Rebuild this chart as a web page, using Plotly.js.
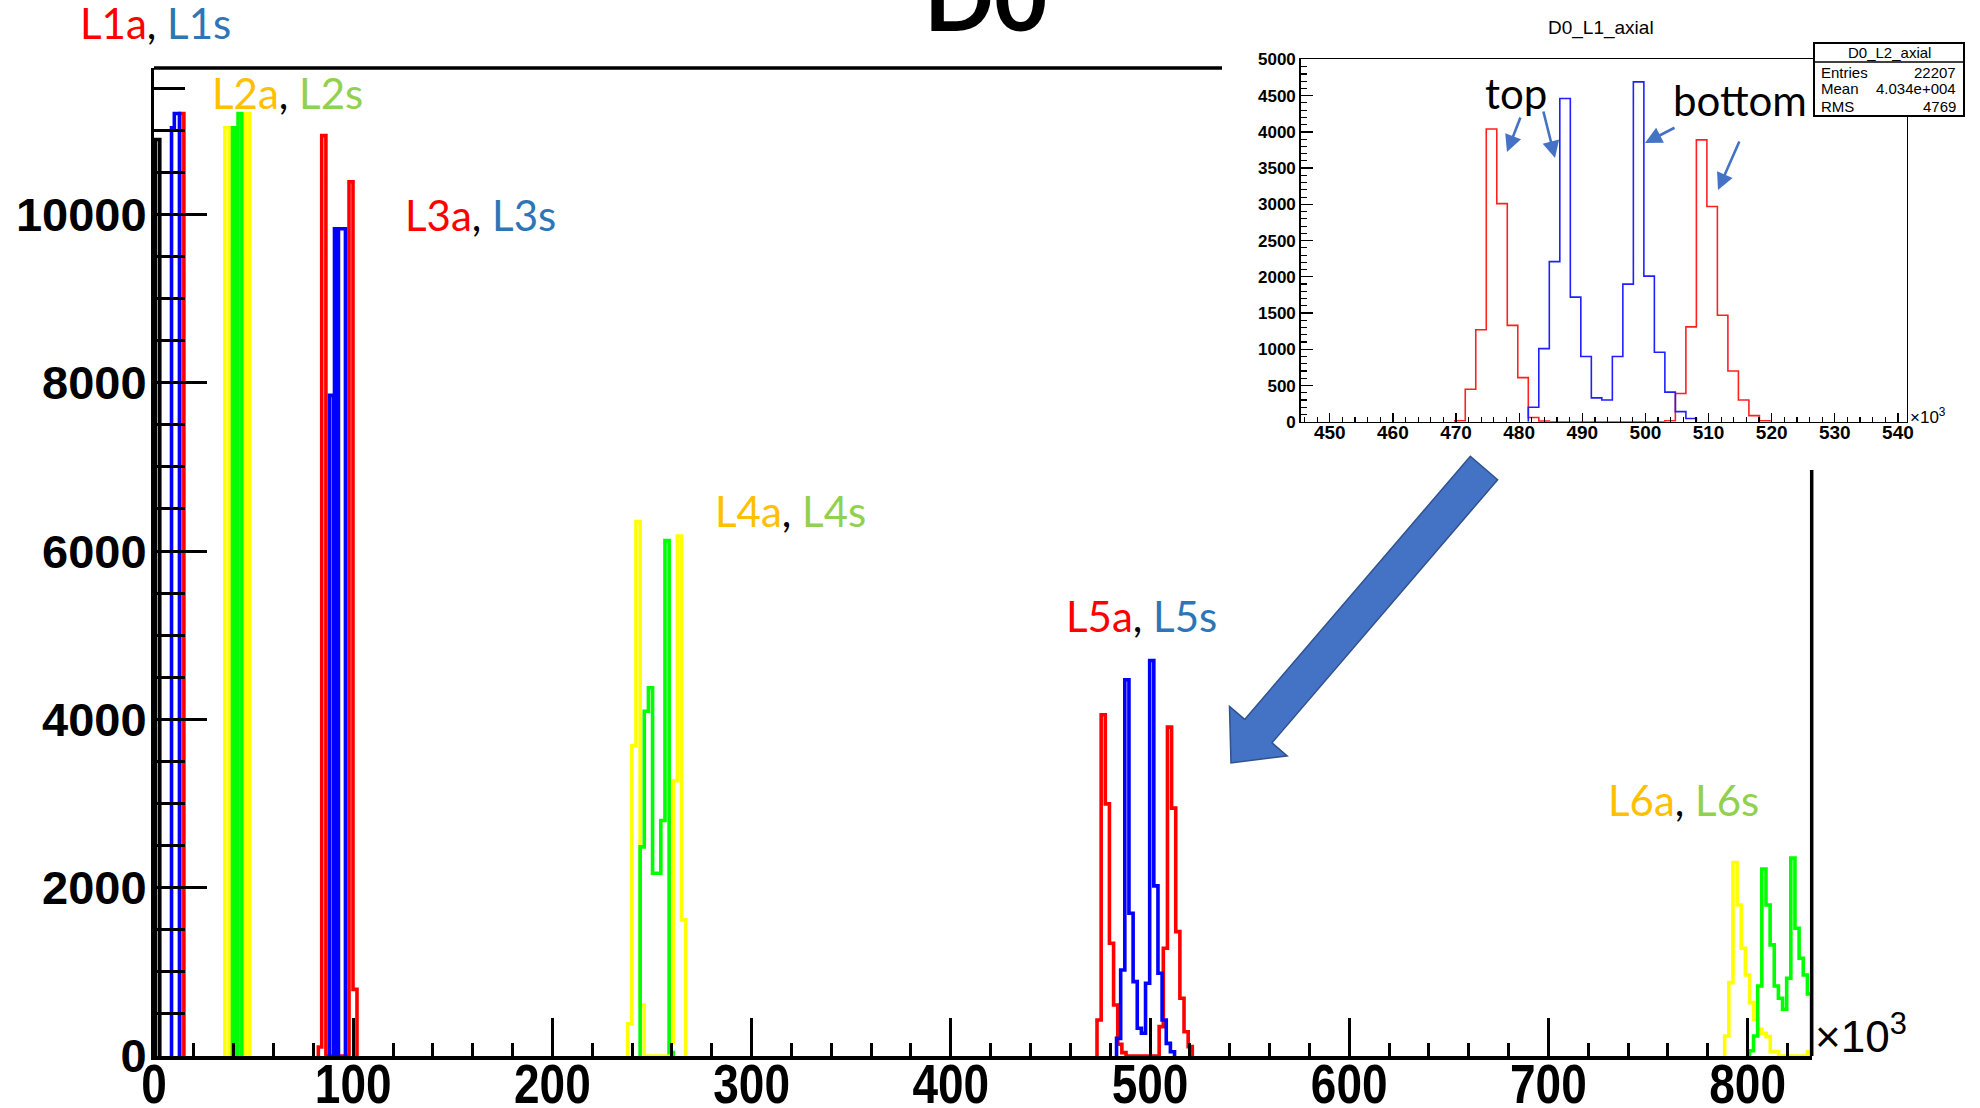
<!DOCTYPE html>
<html>
<head>
<meta charset="utf-8">
<script src="https://cdn.plot.ly/plotly-3.0.1.min.js"></script>
<style>html,body{margin:0;padding:0;background:#fff;}#chart{width:1980px;height:1108px;}</style>
</head>
<body>
<div id="chart"></div>
<script>
// ---------------- DATA (x in units of 10^3, y = entries) ----------------
const binW = 2.08;          // main histogram bin width
const insetBinW = 1.664;    // inset histogram bin width

// L1 / L2 / L3 stripes (explicit bin edges)
const l0Edges  = [0.8, 2.9];                 const l0Counts  = [10890];
const l1aEdges = [12.9, 15.0];               const l1aCounts = [11200];
const l1sEdges = [8.8, 10.2, 12.8];          const l1sCounts = [11030, 11200];
const l2aEdges = [35.6, 37.7, 46.1, 48.1];   const l2aCounts = [11030, 0, 11200];
const l2sEdges = [39.4, 41.1, 42.2, 44.1];   const l2sCounts = [11030, 0, 11200];
const l3aEdges = [82.5, 84.2, 86.3, 97.9, 99.9, 101.9]; const l3aCounts = [107, 10936, 0, 10389, 792];
const l3sEdges = [88.1, 90.1, 90.6, 92.1, 92.6, 96.1];  const l3sCounts = [7850, 0, 9830, 0, 9830];

// L4 / L5 / L6 (uniform bins)
const l4aStart = 237.8;  const l4aCounts = [383, 3686, 6350, 606, 0, 0, 0, 0, 0, 0, 158, 3270, 6177, 1617];
const l4sStart = 244.04; const l4sCounts = [2485, 4096, 4376, 2172, 2172, 2799, 6124, 40];
const l5aStart = 473.4;  const l5aCounts = [428, 4055, 2996, 1340, 606, 140, 40, 0, 0, 0, 0, 0, 0, 0, 0, 349, 1280, 3908, 2945, 1478, 686, 289, 111];
const l5sStart = 483.2;  const l5sCounts = [210, 1022, 4471, 1697, 884, 330, 270, 864, 4700, 2021, 983, 428, 150, 50];
const l6aStart = 788.5;  const l6aCounts = [238, 872, 2299, 1795, 1280, 963, 634, 437, 317, 270, 230, 52, 52, 0, 0, 0, 0, 0, 0, 0, 52];
const l6sStart = 800.9;  const l6sCounts = [63, 238, 832, 2220, 1795, 1320, 832, 686, 555, 924, 2351, 1518, 1161, 963, 737];

// Inset: D0_L1_axial
const insetRedStart  = 469.8;  const insetRedCounts  = [15, 450, 1270, 4040, 3010, 1330, 610, 60, 10, 0, 0, 0, 0, 0, 0, 0, 0, 0, 0, 0, 15, 390, 1310, 3890, 2970, 1470, 700, 300, 85, 15];
const insetBlueStart = 481.45; const insetBlueCounts = [200, 1010, 2210, 4460, 1720, 900, 330, 300, 900, 1900, 4690, 2010, 960, 410, 140, 45];

// Text
const mainTitle = 'D0';
const labelsA = ['L1a', 'L2a', 'L3a', 'L4a', 'L5a', 'L6a'];
const labelsS = ['L1s', 'L2s', 'L3s', 'L4s', 'L5s', 'L6s'];
const insetTitle = 'D0_L1_axial';
const statsTitle = 'D0_L2_axial';
const statsNames  = ['Entries', 'Mean', 'RMS'];
const statsValues = ['22207', '4.034e+004', '4769'];
const insetWords = ['top', 'bottom'];

// ---------------- LAYOUT HELPERS ----------------
const FW = 1980, FH = 1108;
const M = {l: 154, r: 40, t: 30, b: 52};
const PW = FW - M.l - M.r, PH = FH - M.t - M.b;
const px = v => (v - M.l) / PW;
const py = v => (FH - M.b - v) / PH;

function uniformEdges(start, w, n) { const e = []; for (let i = 0; i <= n; i++) e.push(start + i * w); return e; }
function stepXY(edges, counts) {
  const xs = [edges[0]], ys = [0];
  for (let i = 0; i < counts.length; i++) { xs.push(edges[i]); ys.push(counts[i]); }
  xs.push(edges[counts.length]); ys.push(0);
  return {xs, ys};
}
const RED = '#ff0000', BLUE = '#0000ff', YEL = '#ffff00', GRN = '#00ff00';
function hist(edges, counts, color, width, xa, ya) {
  const s = stepXY(edges, counts);
  return {type: 'scatter', mode: 'lines', x: s.xs, y: s.ys, xaxis: xa || 'x', yaxis: ya || 'y',
          line: {shape: 'hv', color: color, width: width || 3.6}, hoverinfo: 'skip'};
}

const traces = [
  hist(l0Edges, l0Counts, '#000000'),
  hist(l1aEdges, l1aCounts, RED),
  hist(l1sEdges, l1sCounts, BLUE),
  hist(l2aEdges, l2aCounts, YEL),
  hist(l2sEdges, l2sCounts, GRN),
  hist(l3aEdges, l3aCounts, RED),
  hist(l3sEdges, l3sCounts, BLUE),
  hist(uniformEdges(l4aStart, binW, l4aCounts.length), l4aCounts, YEL),
  hist(uniformEdges(l4sStart, binW, l4sCounts.length), l4sCounts, GRN),
  hist(uniformEdges(l5aStart, binW, l5aCounts.length), l5aCounts, RED),
  hist(uniformEdges(l5sStart, binW, l5sCounts.length), l5sCounts, BLUE),
  hist(uniformEdges(l6aStart, binW, l6aCounts.length), l6aCounts, YEL),
  hist(uniformEdges(l6sStart, binW, l6sCounts.length), l6sCounts, GRN),
  hist(uniformEdges(insetRedStart, insetBinW, insetRedCounts.length), insetRedCounts, '#ff2020', 1.6, 'x2', 'y2'),
  hist(uniformEdges(insetBlueStart, insetBinW, insetBlueCounts.length), insetBlueCounts, '#2020ff', 1.6, 'x2', 'y2')
];

// geometry (pixels)
const mainRight = 1811.7, mainTop = 68, mainZero = 1055.7;
const inL = 1300.7, inR = 1906.8, inT = 59.4, inB = 421.8;

const ARIAL = '"Liberation Sans", Arial, sans-serif';
const SLIDE = 'Lato, "Open Sans", sans-serif';

const annotations = [];
annotations.push({xref: 'paper', yref: 'paper', x: px(985), y: py(-4), xanchor: 'center', yanchor: 'middle',
  text: '<b>' + mainTitle + '</b>', showarrow: false, font: {family: SLIDE, size: 92, color: '#000'}});

const labelColA = ['#ff0000', '#ffc000', '#ff0000', '#ffc000', '#ff0000', '#ffc000'];
const labelColS = ['#2e75b6', '#92d050', '#2e75b6', '#92d050', '#2e75b6', '#92d050'];
const labelPos = [[155, 23], [287, 93], [480, 215], [790, 511], [1141, 616], [1683, 800]];
for (let i = 0; i < labelsA.length; i++) {
  annotations.push({xref: 'paper', yref: 'paper', x: px(labelPos[i][0]), y: py(labelPos[i][1]),
    xanchor: 'center', yanchor: 'middle', showarrow: false,
    font: {family: SLIDE, size: 42, color: '#000'},
    text: '<span style="color:' + labelColA[i] + '">' + labelsA[i] + '</span>, <span style="color:' + labelColS[i] + '">' + labelsS[i] + '</span>'});
}
// x10^3 main
annotations.push({xref: 'paper', yref: 'paper', x: px(1813), y: py(1033), xanchor: 'left', yanchor: 'middle',
  text: '×10<sup>3</sup>', showarrow: false, font: {family: ARIAL, size: 44, color: '#000'}});
// inset x10^3
annotations.push({xref: 'paper', yref: 'paper', x: px(1908), y: py(416), xanchor: 'left', yanchor: 'middle',
  text: '×10<sup>3</sup>', showarrow: false, font: {family: ARIAL, size: 17, color: '#000'}});
// inset title
annotations.push({xref: 'paper', yref: 'paper', x: px(1601), y: py(28), xanchor: 'center', yanchor: 'middle',
  text: insetTitle, showarrow: false, font: {family: ARIAL, size: 19, color: '#000'}});
// stats box texts
const sbL = 1814, sbR = 1964, sbT = 43, sbB = 116, sbSep = 62;
annotations.push({xref: 'paper', yref: 'paper', x: px((sbL + sbR) / 2), y: py(52), xanchor: 'center', yanchor: 'middle',
  text: statsTitle, showarrow: false, font: {family: ARIAL, size: 15, color: '#000'}});
const rowY = [73, 89, 106];
for (let i = 0; i < statsNames.length; i++) {
  annotations.push({xref: 'paper', yref: 'paper', x: px(1819), y: py(rowY[i]), xanchor: 'left', yanchor: 'middle',
    text: statsNames[i], showarrow: false, font: {family: ARIAL, size: 15, color: '#000'}});
  annotations.push({xref: 'paper', yref: 'paper', x: px(1958), y: py(rowY[i]), xanchor: 'right', yanchor: 'middle',
    text: statsValues[i], showarrow: false, font: {family: ARIAL, size: 15, color: '#000'}});
}
// top / bottom words
annotations.push({xref: 'paper', yref: 'paper', x: px(1516), y: py(93), xanchor: 'center', yanchor: 'middle',
  text: insetWords[0], showarrow: false, font: {family: SLIDE, size: 42, color: '#000'}});
annotations.push({xref: 'paper', yref: 'paper', x: px(1740), y: py(100), xanchor: 'center', yanchor: 'middle',
  text: insetWords[1], showarrow: false, font: {family: SLIDE, size: 42, color: '#000'}});
// small blue arrows [tailX, tailY, headX, headY]
const smallArrows = [[1521, 116, 1507, 152], [1543, 110, 1555, 158], [1676, 127, 1645, 143], [1740, 140, 1718, 190]];
smallArrows.forEach(a => annotations.push({xref: 'paper', yref: 'paper', x: px(a[2]), y: py(a[3]),
  ax: a[0] - a[2], ay: a[1] - a[3], text: '', showarrow: true, arrowhead: 2, arrowsize: 1.3,
  arrowwidth: 2.6, arrowcolor: '#4472c4', standoff: 0, startstandoff: 0}));

// big block arrow (pixels -> paper)
const tip = [1231, 763], tail = [1484, 468];
const dx = tip[0] - tail[0], dy = tip[1] - tail[1], len = Math.hypot(dx, dy);
const u = [dx / len, dy / len], n = [u[1], -u[0]];
const headLen = 42, headHalf = 38, shaftHalf = 18;
const base = [tip[0] - headLen * u[0], tip[1] - headLen * u[1]];
const pts = [
  [tail[0] + shaftHalf * n[0], tail[1] + shaftHalf * n[1]],
  [base[0] + shaftHalf * n[0], base[1] + shaftHalf * n[1]],
  [base[0] + headHalf * n[0], base[1] + headHalf * n[1]],
  tip,
  [base[0] - headHalf * n[0], base[1] - headHalf * n[1]],
  [base[0] - shaftHalf * n[0], base[1] - shaftHalf * n[1]],
  [tail[0] - shaftHalf * n[0], tail[1] - shaftHalf * n[1]]
];
const arrowPath = 'M ' + pts.map(p => px(p[0]).toFixed(5) + ',' + py(p[1]).toFixed(5)).join(' L ') + ' Z';

const shapes = [
  {type: 'line', xref: 'paper', yref: 'paper', x0: px(154), x1: px(1222), y0: py(mainTop), y1: py(mainTop), line: {color: '#000', width: 3.5}, layer: 'above'},
  {type: 'line', xref: 'paper', yref: 'paper', x0: px(mainRight), x1: px(mainRight), y0: py(470), y1: py(1056), line: {color: '#000', width: 3.5}, layer: 'above'},
  {type: 'rect', xref: 'paper', yref: 'paper', x0: px(sbL), x1: px(sbR), y0: py(sbT), y1: py(sbB), fillcolor: '#fff', line: {color: '#000', width: 2}, layer: 'above'},
  {type: 'line', xref: 'paper', yref: 'paper', x0: px(sbL), x1: px(sbR), y0: py(sbSep), y1: py(sbSep), line: {color: '#000', width: 1.5}, layer: 'above'},
  {type: 'path', xref: 'paper', yref: 'paper', path: arrowPath, fillcolor: '#4472c4', line: {color: '#2f528f', width: 1.5}, layer: 'above'}
];

const XLAB_SIZE = 46, XLAB_STRETCH = 1.2;
const layout = {
  width: FW, height: FH, margin: M, paper_bgcolor: '#fff', plot_bgcolor: 'rgba(0,0,0,0)', showlegend: false,
  xaxis: {domain: [0, px(mainRight)], range: [0, (mainRight - 154) / 1.992], anchor: 'y',
    showline: true, linecolor: '#000', linewidth: 4, ticks: 'inside', ticklen: 38, tickwidth: 3, tickcolor: '#000',
    tick0: 0, dtick: 100, showgrid: false, zeroline: false, tickformat: 'd', ticklabelstandoff: -19,
    tickfont: {family: ARIAL, size: XLAB_SIZE, color: '#000', weight: 'bold'},
    minor: {dtick: 20, ticks: 'inside', ticklen: 13, tickwidth: 3, tickcolor: '#000', showgrid: false}},
  yaxis: {domain: [0, py(mainTop)], range: [0, (mainZero - mainTop) / 0.08413], anchor: 'x',
    showline: true, linecolor: '#000', linewidth: 3, ticks: 'inside', ticklen: 53, tickwidth: 3, tickcolor: '#000',
    tick0: 0, dtick: 2000, showgrid: false, zeroline: false, ticklabelstandoff: -5, tickformat: 'd',
    tickfont: {family: ARIAL, size: 47, color: '#000', weight: 'bold'},
    minor: {dtick: 500, ticks: 'inside', ticklen: 31, tickwidth: 3, tickcolor: '#000', showgrid: false}},
  xaxis2: {domain: [px(inL), px(inR)], range: [445.4, 541.4], anchor: 'y2',
    showline: true, mirror: true, linecolor: '#000', linewidth: 1.5, ticks: 'inside', ticklen: 9, tickwidth: 1.3, tickcolor: '#000',
    tick0: 450, dtick: 10, showgrid: false, zeroline: false, ticklabelstandoff: -7,
    tickfont: {family: ARIAL, size: 19, color: '#000', weight: 'bold'},
    minor: {dtick: 2, ticks: 'inside', ticklen: 5, tickwidth: 1.2, tickcolor: '#000', showgrid: false}},
  yaxis2: {domain: [py(inB), py(inT)], range: [0, 5000], anchor: 'x2',
    showline: true, mirror: true, linecolor: '#000', linewidth: 1.5, ticks: 'inside', ticklen: 12, tickwidth: 1.3, tickcolor: '#000',
    tick0: 0, dtick: 500, showgrid: false, zeroline: false, tickformat: 'd',
    tickfont: {family: ARIAL, size: 17, color: '#000', weight: 'bold'},
    minor: {dtick: 100, ticks: 'inside', ticklen: 6, tickwidth: 1.2, tickcolor: '#000', showgrid: false}},
  annotations: annotations,
  shapes: shapes
};

Plotly.newPlot('chart', traces, layout, {displayModeBar: false, staticPlot: true}).then(gd => {
  // ROOT-style tall, condensed x tick labels: stretch vertically about the top of the digits
  gd.querySelectorAll('.subplot.xy .xaxislayer-above .xtick text').forEach(t => {
    const y = parseFloat(t.getAttribute('y') || '0');
    const top = y - 0.72 * XLAB_SIZE;
    const tr = t.getAttribute('transform') || '';
    t.setAttribute('transform', tr + ' translate(0,' + top + ') scale(1,' + XLAB_STRETCH + ') translate(0,' + (-top) + ')');
  });
});
</script>
</body>
</html>
